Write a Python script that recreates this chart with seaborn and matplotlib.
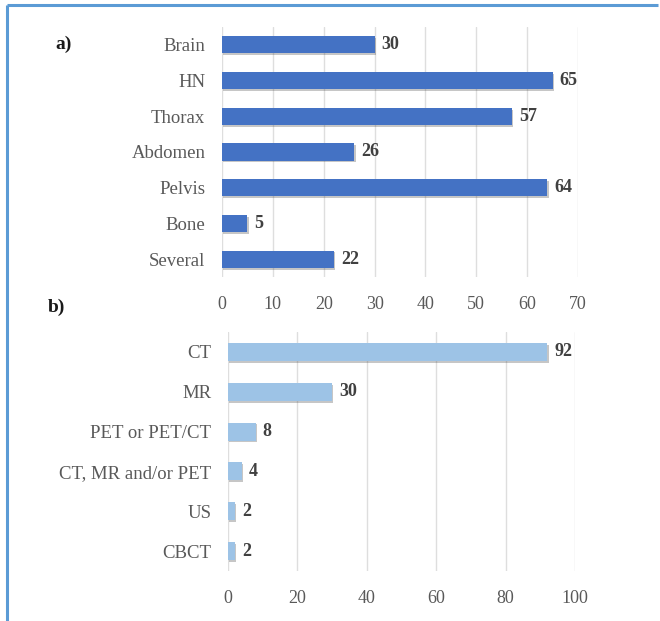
import matplotlib
matplotlib.use("Agg")
import matplotlib.pyplot as plt
import matplotlib.patheffects as pe
from matplotlib.lines import Line2D
import seaborn as sns
import pandas as pd

# Panel a: anatomical sites
sites = ["Brain", "HN", "Thorax", "Abdomen", "Pelvis", "Bone", "Several"]
site_counts = [30, 65, 57, 26, 64, 5, 22]
site_ticks = [0, 10, 20, 30, 40, 50, 60, 70]

# Panel b: imaging modalities
modalities = ["CT", "MR", "PET or PET/CT", "CT, MR and/or PET", "US", "CBCT"]
modality_counts = [92, 30, 8, 4, 2, 2]
modality_ticks = [0, 20, 40, 60, 80, 100]

sns.set_theme(style="white")
plt.rcParams["font.family"] = ["Liberation Serif", "DejaVu Serif"]

W, H = 660, 621
fig = plt.figure(figsize=(W / 100, H / 100), dpi=100)


def px_axes(left, top, right, bottom):
    return fig.add_axes([left / W, 1 - bottom / H, (right - left) / W, (bottom - top) / H])


def draw_panel(ax, cats, vals, ticks, color, bar_w, label_pad):
    df = pd.DataFrame({"cat": cats, "val": vals})
    sns.barplot(data=df, x="val", y="cat", orient="h", color=color,
                saturation=1, width=bar_w, ax=ax, zorder=3, linewidth=0)
    for p in ax.patches:
        p.set_edgecolor("none")
        p.set_path_effects([pe.SimplePatchShadow(offset=(1.0, -1.3), alpha=0.3,
                                                 shadow_rgbFace="#444444"),
                            pe.Normal()])
    ax.set_xlim(ticks[0], ticks[-1])
    ax.set_ylim(len(cats) - 0.5, -0.5)
    ax.set_xticks(ticks)
    ax.set_xlabel("")
    ax.set_ylabel("")
    ax.xaxis.grid(True, color="#dedede", linewidth=1.0, zorder=0)
    ax.yaxis.grid(False)
    for s in ax.spines.values():
        s.set_visible(False)
    ax.tick_params(axis="x", length=0, pad=14, labelsize=13, labelcolor="#595959")
    ax.tick_params(axis="y", length=0, pad=label_pad, labelsize=13.5, labelcolor="#595959")
    for i, v in enumerate(vals):
        ax.annotate(f"{v}", xy=(v, i), xytext=(5, 0), textcoords="offset points",
                    va="center", ha="left", fontsize=13, fontweight="bold",
                    color="#404040")


ax_a = px_axes(222, 27, 578, 277)
draw_panel(ax_a, sites, site_counts, site_ticks, "#4472c4", 0.48, 12)

ax_b = px_axes(228, 332, 575, 571)
draw_panel(ax_b, modalities, modality_counts, modality_ticks, "#9dc3e6", 0.45, 12)

fig.text(55 / W, 1 - 44 / H, "a)", fontsize=14, fontweight="bold", color="#1a1a1a",
         ha="left", va="center")
fig.text(48 / W, 1 - 307 / H, "b)", fontsize=14, fontweight="bold", color="#1a1a1a",
         ha="left", va="center")

# Frame lines along the top and left edges
fig.add_artist(Line2D([7 / W, 658 / W], [1 - 4.5 / H, 1 - 4.5 / H], color="#5b9bd5",
                      linewidth=2.2, solid_capstyle="butt", transform=fig.transFigure))
fig.add_artist(Line2D([7 / W, 7 / W], [0, 1 - 4.5 / H], color="#5b9bd5",
                      linewidth=2.2, solid_capstyle="butt", transform=fig.transFigure))

fig.savefig("out.png", dpi=100, facecolor="white")
